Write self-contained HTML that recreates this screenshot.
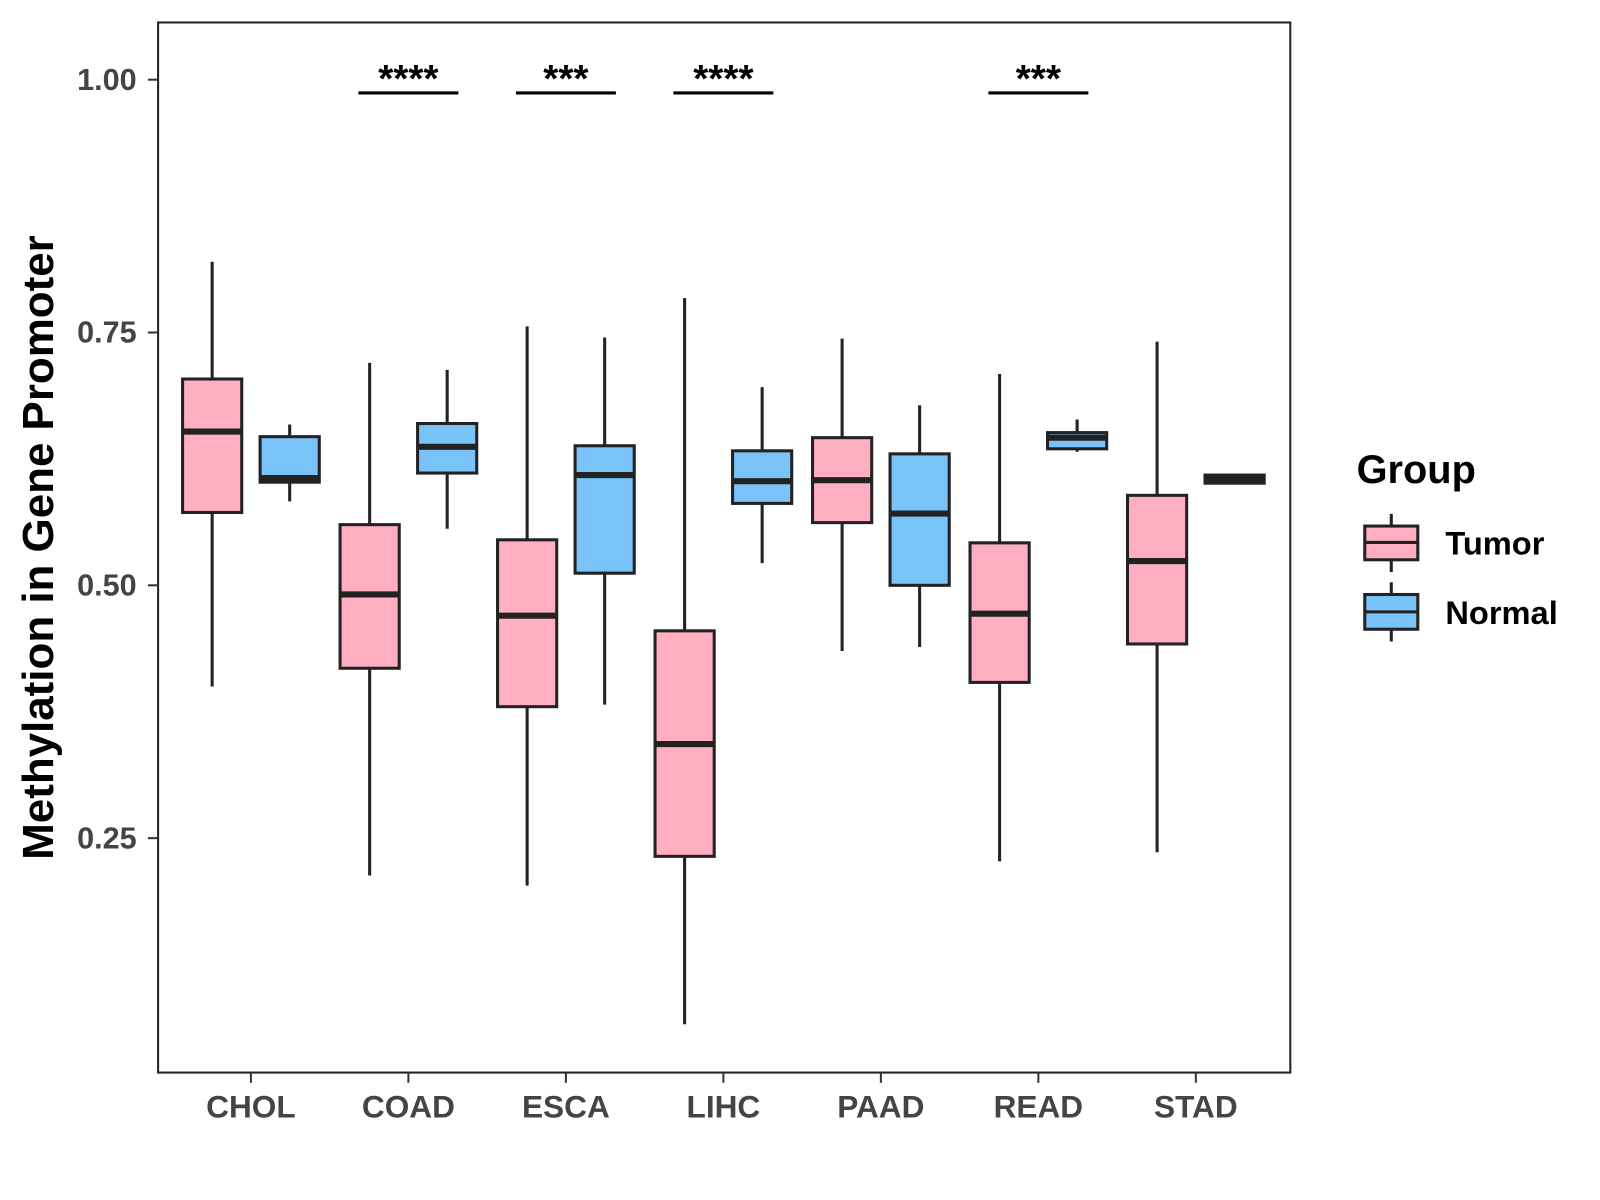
<!DOCTYPE html>
<html><head><meta charset="utf-8"><style>
html,body{margin:0;padding:0;background:#fff;}
svg{display:block;font-family:"Liberation Sans",Arial,sans-serif;}
</style></head><body>
<svg id="chart" width="1600" height="1200" xmlns="http://www.w3.org/2000/svg">
<rect x="0" y="0" width="1600" height="1200" fill="#fff"/>
<g transform="scale(1.0200,1.0215)">
<rect x="155" y="22" width="1110" height="1028" fill="none" stroke="#222" stroke-width="2"/>
<g id="marks"></g>
<g id="axes"></g>
<text transform="translate(52,536) rotate(-90)" text-anchor="middle" font-size="43" font-weight="bold" fill="#000">Methylation in Gene Promoter</text>
<g>
<text x="1330" y="473" font-size="39" font-weight="bold" fill="#000">Group</text>
<g>
<line x1="1364" y1="503" x2="1364" y2="560" stroke="#222" stroke-width="3"/>
<rect x="1338" y="515" width="52" height="33" fill="#FFAFC1" stroke="#222" stroke-width="3"/>
<line x1="1338" y1="531" x2="1390" y2="531" stroke="#222" stroke-width="3"/>
<text x="1417" y="543" font-size="32" font-weight="bold" fill="#000">Tumor</text>
</g>
<g>
<line x1="1364" y1="570" x2="1364" y2="628" stroke="#222" stroke-width="3"/>
<rect x="1338" y="582" width="52" height="34" fill="#79C3F8" stroke="#222" stroke-width="3"/>
<line x1="1338" y1="599" x2="1390" y2="599" stroke="#222" stroke-width="3"/>
<text x="1417" y="611" font-size="32" font-weight="bold" fill="#000">Normal</text>
</g>
</g>
</g>
</svg>
<script>
const categories = ["CHOL","COAD","ESCA","LIHC","PAAD","READ","STAD"];
// [low, q1, median, q3, high]
const tumorStats = [
 [0.400,0.572,0.652,0.704,0.820],
 [0.213,0.418,0.491,0.560,0.720],
 [0.203,0.380,0.470,0.545,0.756],
 [0.066,0.232,0.343,0.455,0.784],
 [0.435,0.562,0.604,0.646,0.744],
 [0.227,0.404,0.472,0.542,0.709],
 [0.236,0.442,0.524,0.589,0.741]
];
const normalStats = [
 [0.583,0.602,0.606,0.647,0.659],
 [0.556,0.611,0.637,0.660,0.713],
 [0.382,0.512,0.609,0.638,0.745],
 [0.522,0.581,0.603,0.633,0.696],
 [0.439,0.500,0.571,0.630,0.678],
 [0.632,0.635,0.646,0.651,0.664],
 [0.600,0.601,0.605,0.609,0.610]
];
const yTicks = [0.25,0.50,0.75,1.00];
const yTickLabels = ["0.25","0.50","0.75","1.00"];
const sigCategories = ["COAD","ESCA","LIHC","READ"];
const sigLabels = ["****","***","****","***"];

const NS="http://www.w3.org/2000/svg";
function y(v){return 78+(1-v)*990;}
function x(i){return 246+i*154.4;}
function mk(tag,attrs,parent){const e=document.createElementNS(NS,tag);for(const k in attrs)e.setAttribute(k,attrs[k]);parent.appendChild(e);return e;}
const marks=document.getElementById('marks'), axes=document.getElementById('axes');
function box(cx,s,fill,name){
  const g=mk('g',{},marks);
  
  
  mk('line',{x1:cx,x2:cx,y1:y(s[4]),y2:y(s[0]),stroke:'#222','stroke-width':3},g);
  mk('rect',{x:cx-29,width:58,y:y(s[3]),height:y(s[1])-y(s[3]),fill:fill,stroke:'#222','stroke-width':3},g);
  mk('line',{x1:cx-29,x2:cx+29,y1:y(s[2]),y2:y(s[2]),stroke:'#222','stroke-width':6},g);
}
categories.forEach((c,i)=>{
  box(x(i)-38,tumorStats[i],'#FFAFC1','box-tumor-'+c.toLowerCase());
  box(x(i)+38,normalStats[i],'#79C3F8','box-normal-'+c.toLowerCase());
  mk('line',{x1:x(i),x2:x(i),y1:1050,y2:1060,stroke:'#333','stroke-width':2},axes);
  const t=mk('text',{x:x(i),y:1094,'text-anchor':'middle','font-size':31,'font-weight':'bold',fill:'#444'},axes);
  
  
  t.textContent=c;
});
yTicks.forEach((v,i)=>{
  mk('line',{x1:145,x2:155,y1:y(v),y2:y(v),stroke:'#333','stroke-width':2},axes);
  const t=mk('text',{x:134,y:y(v)+10,'text-anchor':'end','font-size':30,'font-weight':'bold',fill:'#444'},axes);
  
  
  t.textContent=yTickLabels[i];
});
sigCategories.forEach((c,k)=>{
  const i=categories.indexOf(c);
  const g=mk('g',{},marks);
  
  
  mk('line',{x1:x(i)-49,x2:x(i)+49,y1:91,y2:91,stroke:'#000','stroke-width':3},g);
  const t=mk('text',{x:x(i),y:90,'text-anchor':'middle','font-size':38,'font-weight':'bold',fill:'#000'},g);
  t.textContent=sigLabels[k];
});
</script>
</body></html>
